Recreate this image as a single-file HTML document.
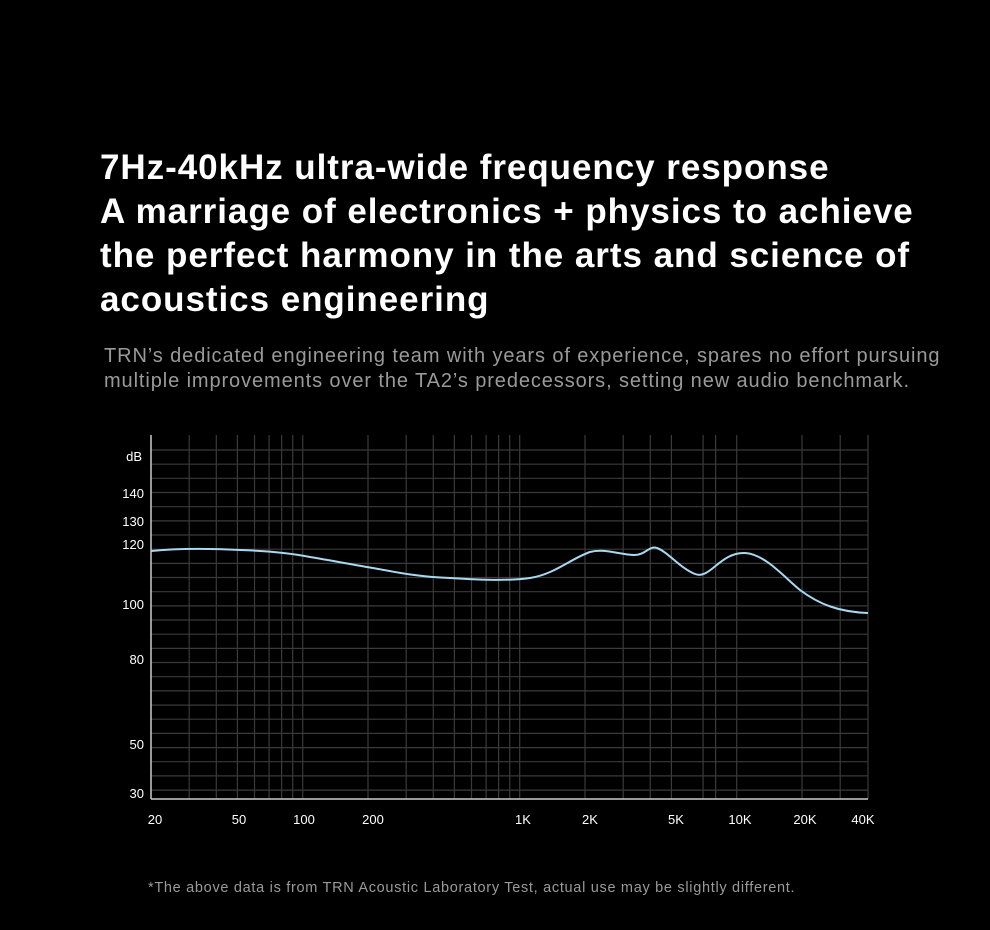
<!DOCTYPE html><html><head><style>
body{margin:0;background:#000;width:990px;height:930px;overflow:hidden;font-family:"Liberation Sans",Arial,sans-serif;position:relative}
h1{position:absolute;left:100px;top:146px;margin:0;color:#fff;font-size:35px;line-height:44px;font-weight:bold;letter-spacing:0.95px;white-space:nowrap}
.sub{position:absolute;left:104px;top:344px;color:#9a9a9a;font-size:20px;line-height:25px;letter-spacing:0.9px;white-space:nowrap}
.foot{position:absolute;left:148px;top:880px;color:#9a9a9a;font-size:14.5px;letter-spacing:0.7px;white-space:nowrap}
</style></head><body>
<h1>7Hz-40kHz ultra-wide frequency response<br>A marriage of electronics + physics to achieve<br>the perfect harmony in the arts and science of<br>acoustics engineering</h1>
<div class="sub">TRN’s dedicated engineering team with years of experience, spares no effort pursuing<br>multiple improvements over the TA2’s predecessors, setting new audio benchmark.</div>
<svg width="990" height="930" style="position:absolute;left:0;top:0" font-family="Liberation Sans,Arial,sans-serif">
<g id="g" stroke="#3a3a3a" stroke-width="1.2"></g>
<line x1="151" y1="435" x2="151" y2="799" stroke="#ccc" stroke-width="1.5"/>
<line x1="151" y1="799" x2="868" y2="799" stroke="#ccc" stroke-width="1.5"/>
<g fill="#fff" font-size="13" text-anchor="end">
<text x="142" y="461">dB</text><text x="144" y="498">140</text><text x="144" y="526">130</text><text x="144" y="549">120</text><text x="144" y="609">100</text><text x="144" y="664">80</text><text x="144" y="749">50</text><text x="144" y="798">30</text></g>
<g fill="#fff" font-size="13" text-anchor="middle">
<text x="155" y="824">20</text><text x="239" y="824">50</text><text x="304" y="824">100</text><text x="373" y="824">200</text><text x="523" y="824">1K</text><text x="590" y="824">2K</text><text x="676" y="824">5K</text><text x="740" y="824">10K</text><text x="805" y="824">20K</text><text x="863" y="824">40K</text></g>
<path d="M151,551 C170,549 200,548 240,550 C270,551 290,553 310,557 C340,562 360,566 373,568 C400,573 420,577 450,578 C480,580 510,581 530,578 C555,574 570,559 590,552 C605,548 620,555 635,555 C645,555 650,545 657,548 C668,552 680,568 695,574 C710,580 720,552 745,553 C765,554 785,578 800,590 C820,605 840,612 868,613" fill="none" stroke="#a9d8f0" stroke-width="2"/>
</svg>
<div class="foot">*The above data is from TRN Acoustic Laboratory Test, actual use may be slightly different.</div>
<script>
var g=document.getElementById('g'),s='';
for(var y=450;y<798;y+=14.17)s+='<line x1="151" x2="868" y1="'+y.toFixed(1)+'" y2="'+y.toFixed(1)+'"/>';
var f=[30,40,50,60,70,80,90,100,200,300,400,500,600,700,800,900,1000,2000,3000,4000,5000,7000,8000,10000,20000,30000];
f.forEach(function(v){var x=151+217*Math.log10(v/20);s+='<line y1="435" y2="799" x1="'+x.toFixed(1)+'" x2="'+x.toFixed(1)+'"/>';});
s+='<line y1="435" y2="799" x1="868" x2="868"/>';
g.innerHTML=s;
</script>
</body></html>
